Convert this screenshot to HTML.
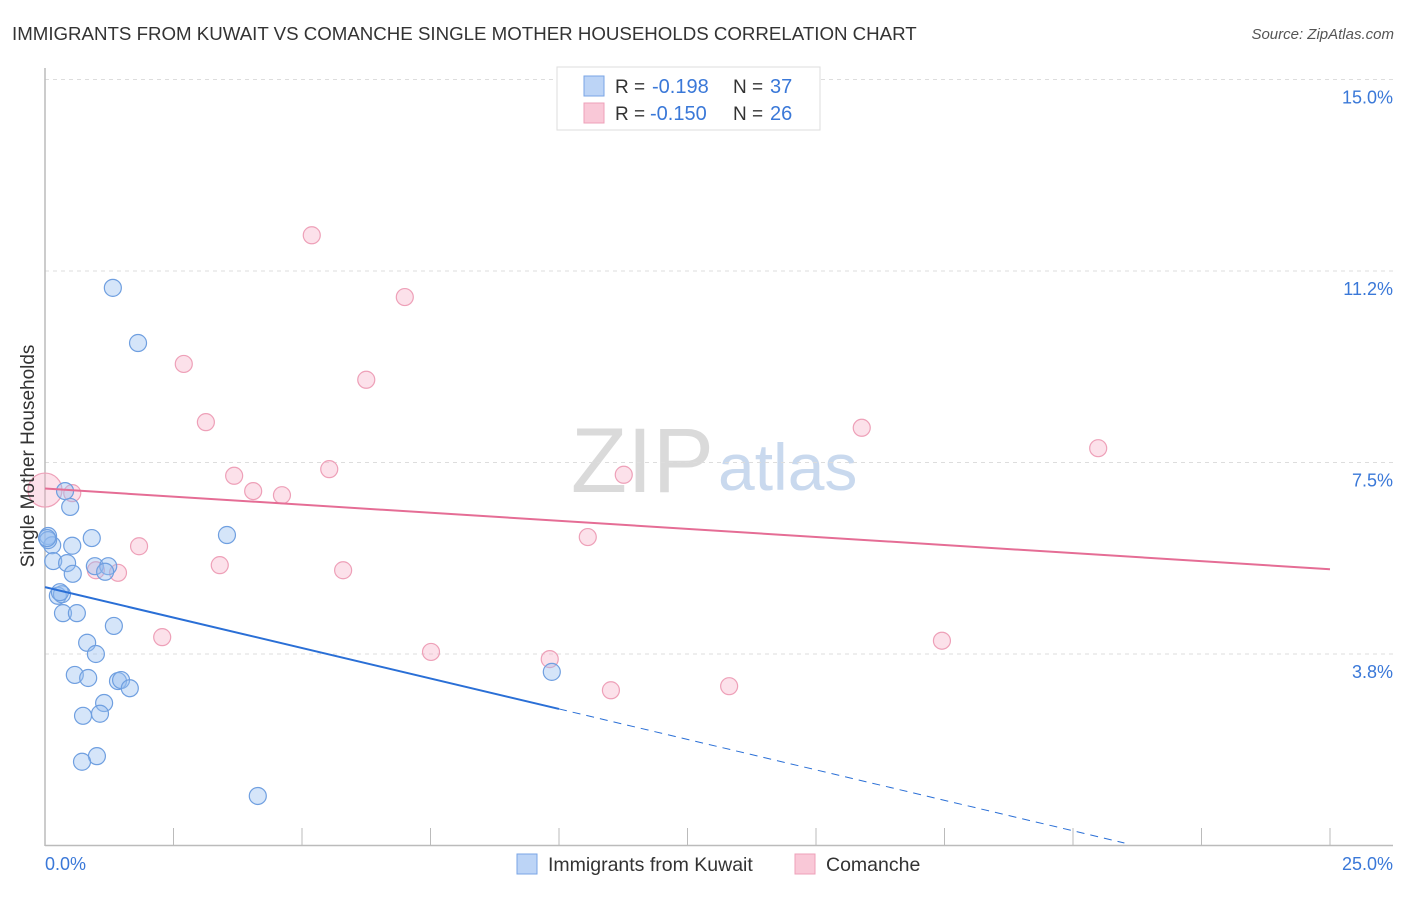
<!DOCTYPE html>
<html><head><meta charset="utf-8"><style>
body{margin:0;background:#fff;font-family:"Liberation Sans",sans-serif;}
svg text{font-family:"Liberation Sans",sans-serif;}
</style></head><body>
<svg id="chart" width="1406" height="892">
<text x="12" y="40" font-size="18.7" fill="#333">IMMIGRANTS FROM KUWAIT VS COMANCHE SINGLE MOTHER HOUSEHOLDS CORRELATION CHART</text>
<text x="1394" y="39" font-size="15" fill="#555" font-style="italic" text-anchor="end">Source: ZipAtlas.com</text>
<text x="714" y="492" font-size="92" fill="#dadada" font-family="Liberation Serif" text-anchor="end">ZIP</text>
<text x="718" y="490" font-size="66" fill="#c9d9ee">atlas</text>
<g id="grid"></g><g id="axes"></g><g id="pts"></g><g id="trend"></g>
<text transform="translate(34,456) rotate(-90)" font-size="19" fill="#333" text-anchor="middle">Single Mother Households</text>
<g>
<rect x="557" y="67" width="263" height="63" fill="#fff" stroke="#ddd"/>
<rect x="584" y="76" width="20" height="20" fill="#bcd4f6" stroke="#7aa5e6"/>
<text x="615" y="93" font-size="19" fill="#333">R =</text>
<text x="652" y="93" font-size="20" fill="#3a78d8">-0.198</text>
<text x="733" y="93" font-size="19" fill="#333">N =</text>
<text x="770" y="93" font-size="20" fill="#3a78d8">37</text>
<rect x="584" y="103" width="20" height="20" fill="#f9c8d7" stroke="#eea0b8"/>
<text x="615" y="120" font-size="19" fill="#333">R =</text>
<text x="650" y="120" font-size="20" fill="#3a78d8">-0.150</text>
<text x="733" y="120" font-size="19" fill="#333">N =</text>
<text x="770" y="120" font-size="20" fill="#3a78d8">26</text>
</g>
<g>
<rect x="517" y="854" width="20" height="20" fill="#bcd4f6" stroke="#7aa5e6"/>
<text x="548" y="871" font-size="19.5" fill="#333">Immigrants from Kuwait</text>
<rect x="795" y="854" width="20" height="20" fill="#f9c8d7" stroke="#eea0b8"/>
<text x="826" y="871" font-size="19.5" fill="#333">Comanche</text>
</g>
</svg>
<script>
const blueX=[1.32,1.81,0.39,0.49,0.06,0.14,0.06,0.53,0.91,3.54,0.16,0.43,0.54,0.97,1.23,1.17,0.25,0.33,0.29,0.35,0.62,1.34,0.82,0.99,0.58,0.84,1.42,1.48,1.65,1.15,1.07,0.74,1.01,0.72,4.14,9.86,0.04];
const blueY=[10.92,9.84,6.94,6.63,6.06,5.88,5.98,5.87,6.02,6.08,5.57,5.53,5.32,5.47,5.47,5.36,4.89,4.92,4.96,4.55,4.55,4.30,3.97,3.75,3.34,3.28,3.22,3.24,3.08,2.79,2.58,2.54,1.75,1.64,0.97,3.40,6.02];
const pinkX=[0,0.53,5.19,7.00,2.70,6.25,3.13,15.89,20.49,5.53,3.68,11.26,4.05,4.61,1.83,10.56,3.40,0.99,1.42,5.80,2.28,17.45,7.51,9.82,11.01,13.31];
const pinkY=[6.96,6.90,11.95,10.74,9.43,9.12,8.29,8.18,7.78,7.37,7.24,7.26,6.94,6.86,5.86,6.04,5.49,5.39,5.34,5.39,4.08,4.01,3.79,3.65,3.04,3.12];
const yTicks=[3.75,7.5,11.25,15];
const yTickLabels=["3.8%","7.5%","11.2%","15.0%"];
const xTicks=[0,2.5,5,7.5,10,12.5,15,17.5,20,22.5,25];
const blueTrend=[5.06,-0.2386];
const pinkTrend=[6.99,-0.0632];
const NS='http://www.w3.org/2000/svg';
const sx=v=>45+v/25*1285, sy=v=>845.5-v/3.75*191.5;
function mk(p,t,a){const e=document.createElementNS(NS,t);for(const k in a)e.setAttribute(k,a[k]);document.getElementById(p).appendChild(e);return e;}
yTicks.forEach((t,i)=>{
 const l=mk('grid','line',{x1:45,x2:1393,y1:sy(t),y2:sy(t),stroke:'#ddd','stroke-dasharray':'4,4'});
 
 
 const tx=mk('grid','text',{x:1393,y:sy(t)+24,'font-size':18,fill:'#3a78d8','text-anchor':'end'});
 tx.textContent=yTickLabels[i];
 
 
});
const ax=mk('axes','line',{x1:45,x2:45,y1:68,y2:846,stroke:'#bbb','stroke-width':1.5});


const bx=mk('axes','line',{x1:45,x2:1393,y1:845.5,y2:845.5,stroke:'#bbb','stroke-width':1.5});


xTicks.forEach(t=>{const l=mk('axes','line',{x1:sx(t),x2:sx(t),y1:828,y2:846,stroke:'#bbb'});
 
 });
const x0=mk('axes','text',{x:45,y:870,'font-size':18,fill:'#3a78d8'});x0.textContent='0.0%';


const x1=mk('axes','text',{x:1393,y:870,'font-size':18,fill:'#3a78d8','text-anchor':'end'});x1.textContent='25.0%';


pinkX.forEach((x,i)=>{const c=mk('pts','circle',{cx:sx(x),cy:sy(pinkY[i]),r:i===0?17:8.5,fill:'rgba(246,170,195,0.35)',stroke:'#eea0b8','stroke-width':1.2});
 
 });
blueX.forEach((x,i)=>{const c=mk('pts','circle',{cx:sx(x),cy:sy(blueY[i]),r:8.5,fill:'rgba(150,190,240,0.4)',stroke:'#6f9fe0','stroke-width':1.2});
 
 });
const f=(tr,x)=>tr[0]+tr[1]*x;
const b1=mk('trend','line',{x1:sx(0),y1:sy(f(blueTrend,0)),x2:sx(10),y2:sy(f(blueTrend,10)),stroke:'#2a6fd6','stroke-width':2});


const b2=mk('trend','line',{x1:sx(10),y1:sy(f(blueTrend,10)),x2:sx(21),y2:sy(f(blueTrend,21)),stroke:'#2a6fd6','stroke-width':1,'stroke-dasharray':'8,6'});


const p1=mk('trend','line',{x1:sx(0),y1:sy(f(pinkTrend,0)),x2:sx(25),y2:sy(f(pinkTrend,25)),stroke:'#e56d95','stroke-width':2});


</script>
</body></html>
